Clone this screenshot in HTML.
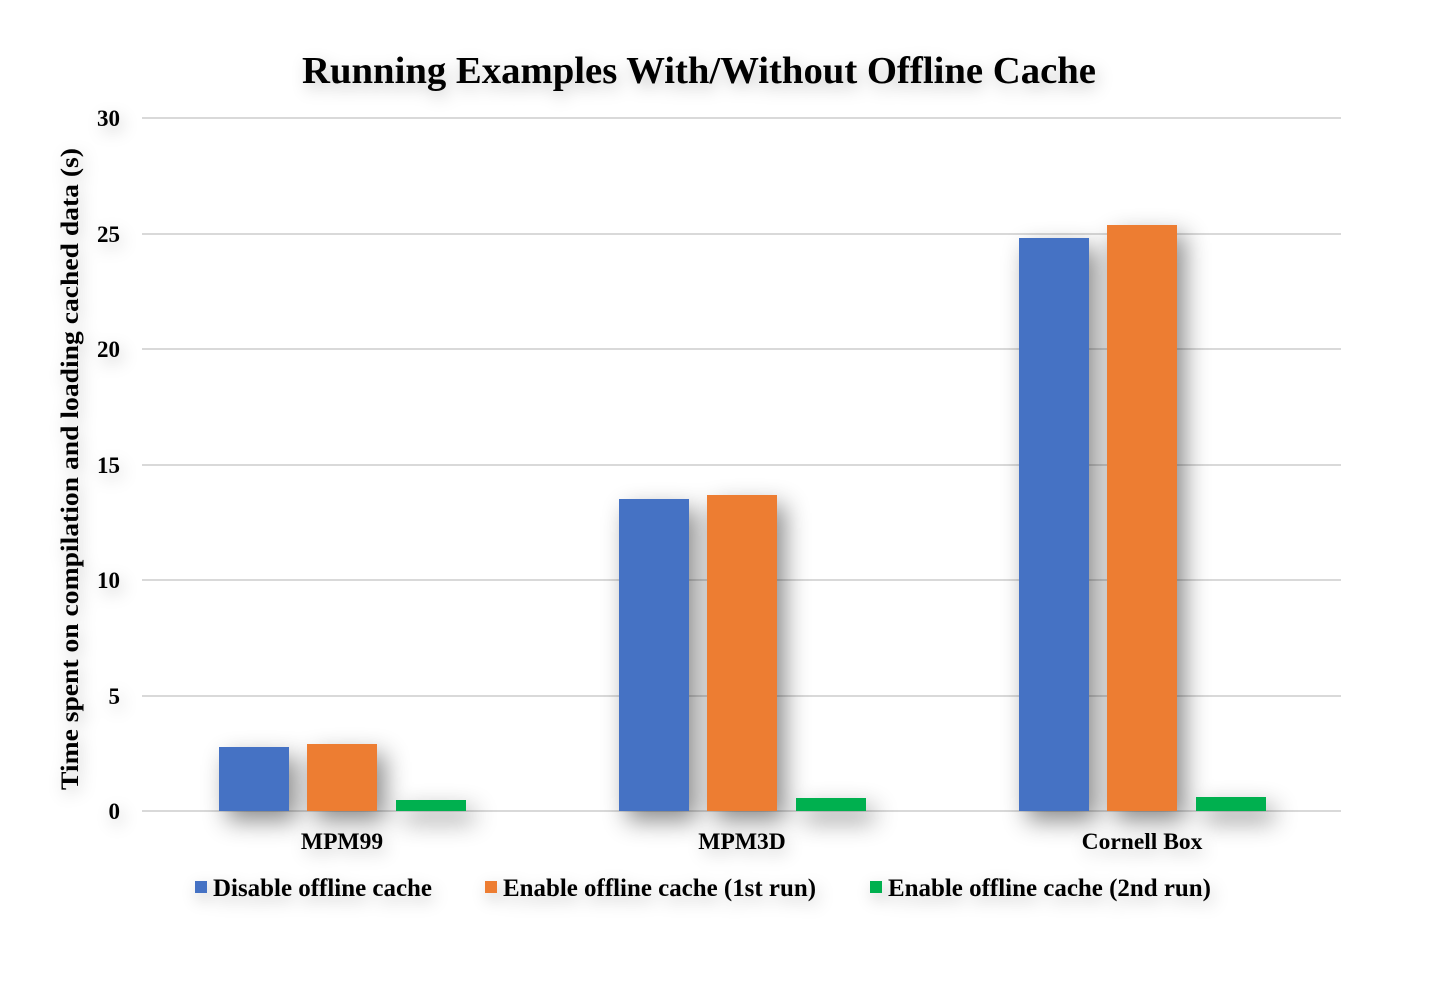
<!DOCTYPE html>
<html><head><meta charset="utf-8"><style>
html,body{margin:0;padding:0;background:#fff;}
svg{display:block;}
text{font-family:"Liberation Serif",serif;font-weight:bold;fill:#000;}
</style></head><body>
<svg width="1430" height="986" viewBox="0 0 1430 986" xmlns="http://www.w3.org/2000/svg">
<defs>
<filter id="bs" x="-60%" y="-60%" width="220%" height="220%">
<feDropShadow dx="8" dy="10" stdDeviation="12" flood-color="#000" flood-opacity="0.45"/>
</filter>
<filter id="ts" x="-20%" y="-60%" width="140%" height="220%">
<feDropShadow dx="3" dy="6" stdDeviation="8" flood-color="#000" flood-opacity="0.22"/>
</filter>
</defs>
<g stroke="#d9d9d9" stroke-width="2">
<line x1="142" y1="118" x2="1341" y2="118"/>
<line x1="142" y1="234" x2="1341" y2="234"/>
<line x1="142" y1="349" x2="1341" y2="349"/>
<line x1="142" y1="465" x2="1341" y2="465"/>
<line x1="142" y1="580" x2="1341" y2="580"/>
<line x1="142" y1="696" x2="1341" y2="696"/>
<line x1="142" y1="811" x2="1341" y2="811"/>
</g>
<g filter="url(#bs)">
<rect x="219" y="747" width="70" height="64" fill="#4472c4"/>
<rect x="307" y="744" width="70" height="67" fill="#ed7d31"/>
<rect x="396" y="800" width="70" height="11" fill="#00b050"/>
<rect x="619" y="499" width="70" height="312" fill="#4472c4"/>
<rect x="707" y="495" width="70" height="316" fill="#ed7d31"/>
<rect x="796" y="798" width="70" height="13" fill="#00b050"/>
<rect x="1019" y="238" width="70" height="573" fill="#4472c4"/>
<rect x="1107" y="225" width="70" height="586" fill="#ed7d31"/>
<rect x="1196" y="797" width="70" height="14" fill="#00b050"/>
</g>
<g filter="url(#ts)">
<text x="302" y="83" font-size="38.5" textLength="794" lengthAdjust="spacingAndGlyphs">Running Examples With/Without Offline Cache</text>
<g font-size="23" text-anchor="end">
<text x="120" y="126">30</text>
<text x="120" y="242">25</text>
<text x="120" y="357">20</text>
<text x="120" y="473">15</text>
<text x="120" y="588">10</text>
<text x="120" y="704">5</text>
<text x="120" y="819">0</text>
</g>
<text transform="translate(78,790) rotate(-90)" font-size="25" textLength="642" lengthAdjust="spacingAndGlyphs">Time spent on compilation and loading cached data (s)</text>
<g font-size="23.5" text-anchor="middle">
<text x="342" y="849">MPM99</text>
<text x="742" y="849">MPM3D</text>
<text x="1142" y="849">Cornell Box</text>
</g>
<g font-size="25">
<rect x="195" y="881" width="12" height="12" fill="#4472c4"/>
<text x="213" y="896" textLength="219" lengthAdjust="spacingAndGlyphs">Disable offline cache</text>
<rect x="485" y="881" width="12" height="12" fill="#ed7d31"/>
<text x="503" y="896" textLength="313" lengthAdjust="spacingAndGlyphs">Enable offline cache (1st run)</text>
<rect x="870" y="881" width="12" height="12" fill="#00b050"/>
<text x="888" y="896" textLength="323" lengthAdjust="spacingAndGlyphs">Enable offline cache (2nd run)</text>
</g>
</g>
</svg>
</body></html>
